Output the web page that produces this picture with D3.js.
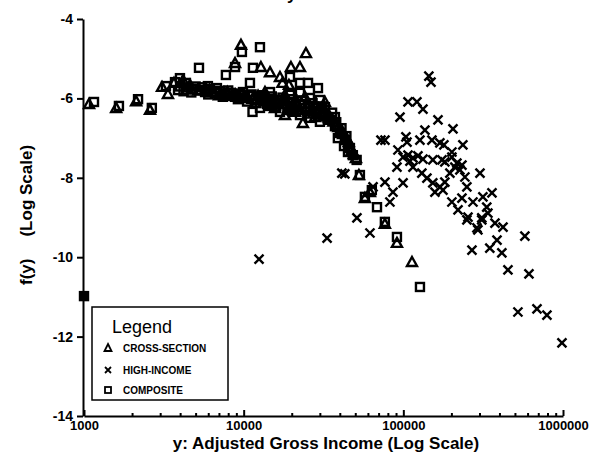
<!DOCTYPE html>
<html>
<head>
<style>
body { margin: 0; background: #fff; }
text { font-family: "Liberation Sans", Arial, sans-serif; fill: #000; }
</style>
<script src="https://d3js.org/d3.v7.min.js"></script>
</head>
<body>
<script>
// data: [income, f(y)]
let crossSection = [
    [1075,-6.14],[1590,-6.24],[2120,-6.07],[2590,-6.29],[3080,-5.71],[3355,-5.89],[3660,-5.61],[4170,-5.54],[4610,-5.66],[5730,-5.79],
    [6320,-5.84],[7310,-5.89],[8450,-5.94],[9750,-5.91],[11360,-6.01],[13040,-5.99],[15040,-6.09],[17370,-6.07],[20050,-6.17],[23170,-6.14],
    [26790,-6.27],[30930,-6.37],[35720,-6.52],[38400,-6.67],[41300,-6.82],[44380,-7.02],[47700,-7.30],[50460,-7.50],
    [13600,-5.84],[18140,-5.91],[24200,-5.96],[15710,-6.24],[20960,-6.34],[27950,-6.47],[32280,-6.09],
    [9620,-4.65],[8830,-5.11],[12820,-5.21],[14620,-5.34],[16880,-5.46],[19770,-5.21],[22520,-5.21],[24540,-4.86],
    [17500,-5.61],[19200,-5.66],[18140,-6.42],[23500,-6.62],
    [4400,-5.78],[5200,-5.80],[6100,-5.78],[7000,-5.92],[7900,-5.84],[8900,-5.90],[10300,-5.95],[11800,-6.10],[12300,-5.93],
    [14200,-6.02],[16300,-6.13],[17800,-6.00],[19000,-6.25],[21200,-6.10],[22800,-6.30],[25500,-6.15],[27300,-6.38],
    [29500,-6.25],[31500,-6.45],[34000,-6.40],[36500,-6.58],[39200,-6.72],[42000,-6.90],[45500,-7.10],[49000,-7.40],
    [52700,-7.93],[61740,-8.36],[57450,-8.51],[76630,-9.16],[91200,-9.64],[113300,-10.12]
];
let highIncome = [
    [144500,-5.44],[149000,-5.59],[107000,-6.09],[121600,-6.09],[132700,-6.27],[95300,-6.47],[164800,-6.54],[204600,-6.77],
    [72400,-7.05],[76700,-7.05],[103800,-6.97],[105400,-7.10],[136500,-6.80],[127000,-7.05],[151000,-7.05],[169400,-7.12],
    [179500,-7.17],[236000,-7.17],[201400,-7.35],[92500,-7.30],
    [99600,-7.48],[107000,-7.43],[114900,-7.50],[123400,-7.45],[132700,-7.53],[110000,-7.58],[91200,-7.73],[153000,-7.55],
    [174600,-7.55],[201400,-7.48],[216500,-7.63],[182000,-7.60],[232800,-7.68],[210200,-7.73],[114900,-7.73],[130600,-7.88],
    [140500,-8.01],[195700,-7.88],[226000,-7.80],[243000,-7.98],[302000,-7.88],
    [153000,-8.13],[169400,-8.23],[182000,-8.11],[157700,-8.36],[250000,-8.23],[177000,-8.31],[201400,-8.61],[232800,-8.51],
    [273000,-8.61],[315000,-8.48],[359000,-8.38],[333000,-8.74],[338500,-8.89],[310000,-9.01],[375000,-9.14],[421000,-9.24],
    [289000,-9.26],[220000,-8.81],[254000,-8.99],
    [76700,-8.11],[99600,-8.13],[86100,-8.36],[82400,-8.61],[64600,-8.23],[41200,-7.88],[43000,-7.90],[51200,-9.01],
    [61800,-9.39],[33300,-9.52],[12480,-10.05],
    [250000,-9.06],[310000,-9.06],[293000,-9.31],[269000,-9.82],[348000,-9.77],[386000,-9.57],[414000,-9.89],[577000,-9.47],
    [452000,-10.32],[612000,-10.42],[522000,-11.38],[687000,-11.30],[793000,-11.46],[985000,-12.16]
];
let composite = [
    [1000,-10.98],
    [1155,-6.09],[1655,-6.19],[2180,-6.02],[2660,-6.24],[3260,-5.69],[3715,-5.59],[3990,-5.49],[3880,-5.79],[4350,-5.61],
    [4800,-5.76],[5250,-5.23],[5970,-5.69],
    [5324,-5.79],[5730,-5.84],[6150,-5.76],[6610,-5.86],[7110,-5.81],[7640,-5.91],[8210,-5.86],[8830,-5.96],[9490,-5.89],
    [10190,-5.99],[10950,-5.94],[11770,-6.04],[12650,-5.96],[13600,-6.06],[14620,-6.01],[15710,-6.11],[16880,-6.04],
    [18140,-6.14],[19500,-6.09],[20960,-6.19],[22520,-6.14],[24200,-6.24],[26010,-6.22],[27950,-6.32],[30040,-6.34],
    [32280,-6.44],[34690,-6.54],[37290,-6.70],[40070,-6.87],[43070,-7.05],[46290,-7.25],[48300,-7.43],[51000,-7.55],
    [9750,-4.83],[12650,-4.71],[8830,-5.21],[7740,-5.41],[11430,-5.23],[10950,-5.61],[19500,-5.46],[22520,-5.61],
    [25300,-5.61],[29200,-5.74],[32280,-6.22],[37290,-6.47],[11360,-6.34],
    [12650,-6.24],[16880,-6.34],[22520,-6.42],[26010,-6.49],[30040,-6.59],[19500,-6.29],[14620,-6.19],
    [14620,-5.84],[19500,-5.91],[26010,-5.99],[30040,-6.04],[22520,-5.86],
    [4000,-5.70],[4500,-5.72],[5000,-5.70],[4200,-5.82],[4700,-5.85],[5500,-5.72],[6000,-5.90],[6800,-5.74],[7400,-5.96],
    [8000,-5.80],[8600,-5.88],[9200,-6.02],[9900,-5.84],[10500,-6.08],[11200,-5.90],[12000,-6.12],[13000,-5.92],[14000,-6.14],
    [15000,-5.95],[16000,-6.20],[17500,-5.98],[18800,-6.22],[20200,-6.02],[21500,-6.28],[23300,-6.05],[25000,-6.33],
    [27000,-6.12],[28900,-6.40],[31000,-6.20],[33500,-6.50],[35800,-6.36],[38000,-6.60],[41000,-6.75],[44000,-6.95],
    [38900,-7.00],[42500,-7.20],[45000,-7.35],
    [53460,-7.93],[63500,-8.31],[57450,-8.48],[68400,-8.74],[76630,-9.11],[91200,-9.49],[127100,-10.75]
];
let xMajor = [1000, 10000, 100000, 1000000];
let yTicks = [-4, -6, -8, -10, -12, -14];
let legendNames = ["CROSS-SECTION", "HIGH-INCOME", "COMPOSITE"];

let width = 596, height = 453;
let svg = d3.select("body").append("svg")
    .attr("width", width)
    .attr("height", height);

let x = d3.scaleLog().domain([1000, 1000000]).range([84, 563]);
let y = d3.scaleLinear().domain([-14, -4]).range([416, 19]);

// minor ticks 1..9 per decade
let xMinor = [];
xMajor.slice(0, 3).forEach(m => { for (let k = 1; k < 10; k++) xMinor.push(m * k); });
xMinor.push(1000000);

let xAxis = svg.append("g")
    .attr("transform", "translate(0,416)")
    .call(d3.axisBottom(x).tickValues(xMinor).tickSizeInner(-3).tickSizeOuter(0).tickPadding(5)
        .tickFormat(d => xMajor.includes(d) ? String(d) : ""));
xAxis.selectAll(".tick line").filter(d => xMajor.includes(d)).attr("y2", -6);
xAxis.selectAll("line, path").attr("stroke", "#000").attr("stroke-width", 2);
xAxis.selectAll("text").attr("font-size", 13).attr("font-weight", "bold").attr("fill", "#000");

let yAxis = svg.append("g")
    .attr("transform", "translate(83,0)")
    .call(d3.axisLeft(y).tickValues(yTicks).tickSizeInner(6).tickSizeOuter(0).tickPadding(4)
        .tickFormat(d => String(d)));
yAxis.selectAll("line, path").attr("stroke", "#000").attr("stroke-width", 2);
yAxis.selectAll("text").attr("font-size", 14).attr("font-weight", "bold").attr("fill", "#000");

// marker shapes
function drawTriangles(g, pts, r) {
    g.selectAll(null).data(pts).join("path")
        .attr("d", d => {
            let cx = x(d[0]), cy = y(d[1]);
            return "M" + cx + "," + (cy - r) + "L" + (cx + r) + "," + (cy + r * 0.8) + "L" + (cx - r) + "," + (cy + r * 0.8) + "Z";
        })
        .attr("fill", "none").attr("stroke", "#000").attr("stroke-width", 2.4);
}
function drawSquares(g, pts, r) {
    g.selectAll(null).data(pts).join("rect")
        .attr("x", d => x(d[0]) - r).attr("y", d => y(d[1]) - r)
        .attr("width", 2 * r).attr("height", 2 * r)
        .attr("fill", d => d[0] === 1000 ? "#000" : "none")
        .attr("stroke", "#000").attr("stroke-width", 2.4);
}
function drawCrosses(g, pts, r) {
    g.selectAll(null).data(pts).join("path")
        .attr("d", d => {
            let cx = x(d[0]), cy = y(d[1]);
            return "M" + (cx - r) + "," + (cy - r) + "L" + (cx + r) + "," + (cy + r) +
                   "M" + (cx + r) + "," + (cy - r) + "L" + (cx - r) + "," + (cy + r);
        })
        .attr("fill", "none").attr("stroke", "#000").attr("stroke-width", 2.4);
}

let plot = svg.append("g");
drawTriangles(plot.append("g"), crossSection, 5);
drawSquares(plot.append("g"), composite, 4);
drawCrosses(plot.append("g"), highIncome, 4.5);

// legend
let lg = svg.append("g");
lg.append("rect").attr("x", 92).attr("y", 307).attr("width", 136).attr("height", 93)
    .attr("fill", "#fff").attr("stroke", "#000").attr("stroke-width", 1.5);
lg.append("text").attr("x", 112).attr("y", 333).attr("font-size", 18).text("Legend");
let ly = [348, 370, 390];
lg.append("path").attr("d", "M108,344L111.5,351L104.5,351Z").attr("fill", "none").attr("stroke", "#000").attr("stroke-width", 1.8);
lg.append("path").attr("d", "M105,367L111,373M111,367L105,373").attr("stroke", "#000").attr("stroke-width", 1.8);
lg.append("rect").attr("x", 105).attr("y", 387).attr("width", 6).attr("height", 6).attr("fill", "none").attr("stroke", "#000").attr("stroke-width", 1.8);
lg.selectAll(".lt").data(legendNames).join("text")
    .attr("class", "lt")
    .attr("x", 123).attr("y", (d, i) => ly[i] + 3.5)
    .attr("font-size", 10).attr("font-weight", "bold")
    .text(d => d);

// axis titles
svg.append("text")
    .attr("x", 326).attr("y", 449)
    .attr("text-anchor", "middle").attr("font-size", 17).attr("font-weight", "bold")
    .text("y: Adjusted Gross Income (Log Scale)");
let yt = svg.append("text")
    .attr("transform", "translate(32,285) rotate(-90)")
    .attr("font-size", 17).attr("font-weight", "bold");
yt.append("tspan").text("f(y)");
yt.append("tspan").attr("dx", 22).text("(Log Scale)");
// title, cut off at the top of the page
svg.append("text").attr("x", 287).attr("y", 0).attr("font-size", 17).attr("font-weight", "bold").text("y");
</script>
</body>
</html>
